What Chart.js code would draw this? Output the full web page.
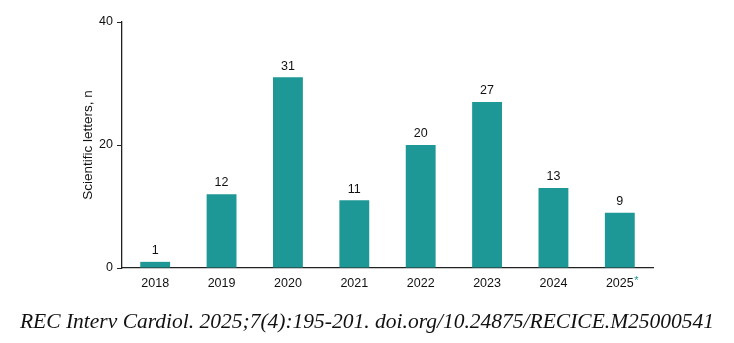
<!DOCTYPE html>
<html>
<head>
<meta charset="utf-8">
<script src="https://cdn.jsdelivr.net/npm/chart.js@4.4.1/dist/chart.umd.min.js"></script>
<style>
  html, body { margin: 0; padding: 0; background: #fff; }
  #wrap { position: relative; width: 734px; height: 343px; }
  #caption {
    position: absolute; left: 0; top: 309px; width: 734px;
    text-align: center; font-family: "Liberation Serif", serif;
    font-style: italic; font-size: 21.5px; color: #111;
  }
</style>
</head>
<body>
<div id="wrap">
  <canvas id="chart" width="734" height="343"></canvas>
  <div id="caption">REC Interv Cardiol. 2025;7(4):195-201. doi.org/10.24875/RECICE.M25000541</div>
</div>
<script>
const years = ["2018", "2019", "2020", "2021", "2022", "2023", "2024", "2025"];
const letters = [1, 12, 31, 11, 20, 27, 13, 9];
const yTicks = [0, 20, 40];
const barColor = "#1e9896";

// valeurs au-dessus des barres + astérisque sur 2025
const labelPlugin = {
  id: "valueLabels",
  afterDatasetsDraw(chart) {
    const ctx = chart.ctx;
    const meta = chart.getDatasetMeta(0);
    ctx.save();
    ctx.font = "12.5px 'Liberation Sans', Arial, sans-serif";
    ctx.fillStyle = "#111";
    ctx.textAlign = "center";
    ctx.textBaseline = "bottom";
    meta.data.forEach((bar, i) => {
      ctx.fillText(String(letters[i]), bar.x, bar.y - 5);
    });
    // astérisque
    const xs = chart.scales.x;
    const last = years.length - 1;
    const w = ctx.measureText(years[last]).width;
    ctx.font = "11px 'Liberation Sans', Arial, sans-serif";
    ctx.fillStyle = barColor;
    ctx.textAlign = "left";
    ctx.textBaseline = "top";
    ctx.fillText("*", xs.getPixelForValue(last) + w / 2 + 0.5, xs.top + 7);
    ctx.restore();
  },
};

new Chart(document.getElementById("chart"), {
  type: "bar",
  data: {
    labels: years,
    datasets: [{
      data: letters,
      backgroundColor: barColor,
      barPercentage: 0.45,
      categoryPercentage: 1,
    }],
  },
  options: {
    responsive: false,
    animation: false,
    layout: { padding: { left: 76, right: 81, top: 22, bottom: 0 } },
    plugins: { legend: { display: false }, tooltip: { enabled: false } },
    scales: {
      x: {
        afterFit: (s) => { s.height = 75; },
        grid: { drawOnChartArea: false, drawTicks: false },
        border: { display: true, color: "#222", width: 1.3 },
        ticks: {
          padding: 8,
          color: "#111",
          font: { family: "'Liberation Sans', Arial, sans-serif", size: 12.5 },
        },
      },
      y: {
        min: 0,
        max: 40,
        afterFit: (s) => { s.width = 46; },
        afterBuildTicks: (s) => { s.ticks = yTicks.map((v) => ({ value: v })); },
        grid: { drawOnChartArea: false, drawTicks: true, tickLength: 5, color: "#222" },
        border: { display: true, color: "#222", width: 1.3 },
        ticks: {
          padding: 4,
          color: "#111",
          font: { family: "'Liberation Sans', Arial, sans-serif", size: 12.5 },
        },
        title: {
          display: true,
          text: "Scientific letters, n",
          color: "#111",
          padding: 4,
          font: { family: "'Liberation Sans', Arial, sans-serif", size: 13.5 },
        },
      },
    },
  },
  plugins: [labelPlugin],
});
</script>
</body>
</html>
